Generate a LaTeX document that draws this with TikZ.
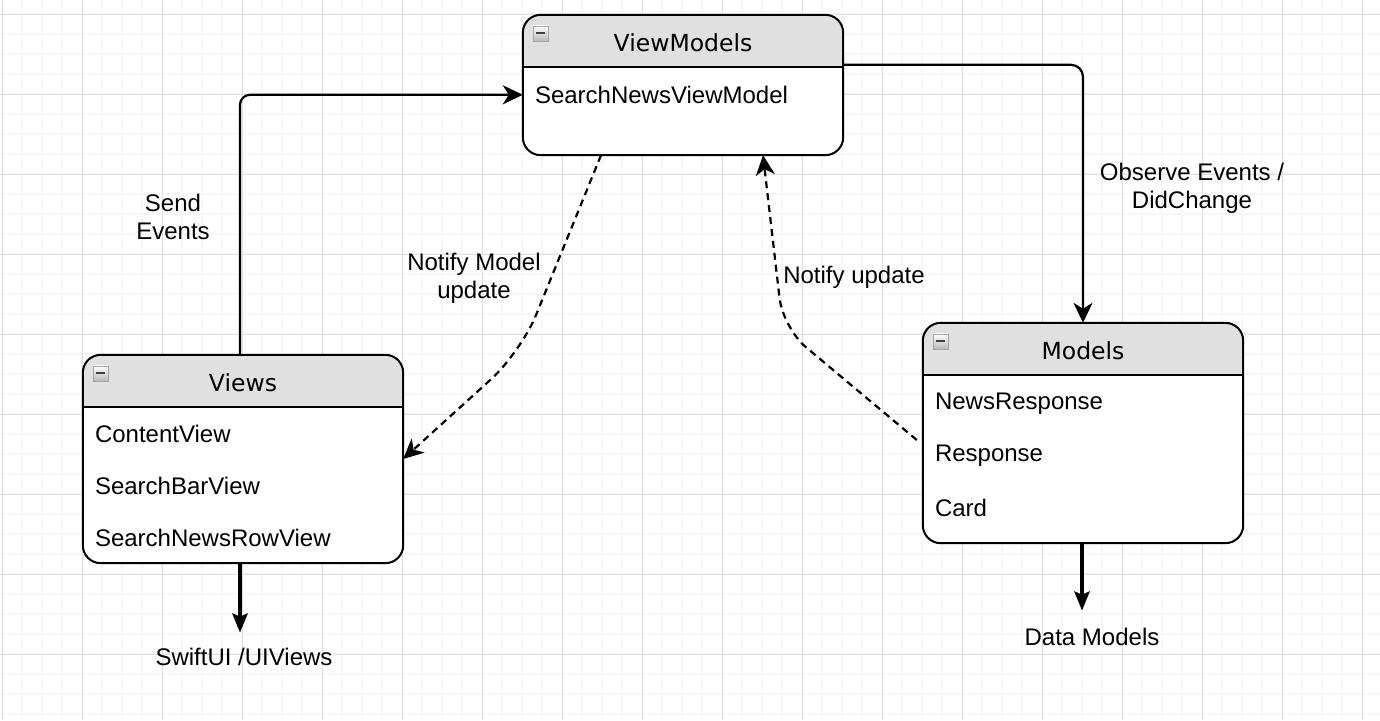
\documentclass[tikz,border=0pt]{standalone}
\usepackage{fontspec}
\setmainfont{Liberation Sans}
\newfontfamily\headfont{DejaVu Sans}
\usepackage{tikz}
\usetikzlibrary{arrows.meta,calc,positioning}
\definecolor{gridminor}{RGB}{247,247,247}
\definecolor{gridmajor}{RGB}{223,223,223}
\definecolor{headgray}{RGB}{224,224,224}

\begin{document}
\begin{tikzpicture}[x=1pt,y=-1pt,
  classbox/.style={fill=white,minimum width=320pt,minimum height=#1,inner sep=0pt,rounded corners=18pt},
  boxtitle/.style={font=\headfont\fontsize{23.5}{28}\selectfont},
  member/.style={anchor=west,inner sep=0pt,font=\fontsize{24}{28}\selectfont},
  lbl/.style={align=center,font=\fontsize{24}{28}\selectfont},
  flow/.style={line width=2.2pt,-{Stealth[length=20pt,width=19pt,inset=6pt]}},
  notif/.style={flow,dash pattern=on 7pt off 5pt},
  exitarrow/.style={line width=4pt,-{Stealth[length=19pt,width=15pt,inset=3pt]}}]
  % grid paper
  \useasboundingbox (0,0) rectangle (1380,720);
  \fill[white] (0,0) rectangle (1380,720);
  \foreach \x in {2,22,...,1382} \draw[gridminor,line width=1.5pt] (\x,0) -- (\x,720);
  \foreach \y in {14,34,...,720} \draw[gridminor,line width=1.5pt] (0,\y) -- (1380,\y);
  \foreach \x in {2,82,...,1382} \draw[gridmajor,line width=1pt] (\x,0) -- (\x,720);
  \foreach \y in {14,94,...,720} \draw[gridmajor,line width=1pt] (0,\y) -- (1380,\y);

  \node[classbox=140pt] (vm) at (683,85) {};
  \node[classbox=208pt] (vw) at (243,459) {};
  \node[classbox=220pt] (md) at (1083,433) {};
  \foreach \n/\t in {vm/ViewModels,vw/Views,md/Models} {
    \begin{scope}
      \clip[rounded corners=18pt] (\n.north west) rectangle (\n.south east);
      \fill[headgray] (\n.north west) rectangle ($(\n.north east)+(0,52)$);
    \end{scope}
    \draw[line width=2pt] ($(\n.north west)+(0,52)$) -- ($(\n.north east)+(0,52)$);
    \draw[line width=2pt,rounded corners=18pt] (\n.north west) rectangle (\n.south east);
    \shade[top color=white,bottom color=gray!55,draw=gray!70,line width=0.6pt] ($(\n.north west)+(10,11)$) rectangle ++(15,15);
    \draw[line width=2.2pt,black!75] ($(\n.north west)+(13,18)$) -- ++(9,0);
    \node[boxtitle] (\n-t) at ($(\n.north)+(0,28)$) {\t};
  }
  \node[member] (vm1) at ($(vm.north west)+(12,80)$) {SearchNewsViewModel};
  \node[member] (vw1) at ($(vw.north west)+(12,79)$) {ContentView};
  \node[member,below=52pt of vw1.west,anchor=west] (vw2) {SearchBarView};
  \node[member,below=52pt of vw2.west,anchor=west] (vw3) {SearchNewsRowView};
  \node[member] (md1) at ($(md.north west)+(12,81)$) {NewsResponse};
  \node[member,below=52pt of md1.west,anchor=west] (md2) {Response};
  \node[member,below=52pt of md2.west,anchor=west] (md3) {Card};

  \node[lbl] (send) at (173,217) {Send\\Events};
  \node[lbl] (obs) at (1192,188) {Observe Events /\\DidChange};
  \node[lbl] (nmu) at (474,278) {Notify Model\\update};
  \node[lbl] (nu) at (854,277) {Notify update};
  \node[lbl] (swift) at (244,657) {SwiftUI /UIViews};
  \node[lbl] (dm) at (1092,637) {Data Models};
  \coordinate (bendl) at (521,352);
  \coordinate (bendr) at (783,328);
  \coordinate (vwout) at ($(vw.south)+(-3,0)$);
  \coordinate (mdout) at ($(md.south)+(-1,0)$);

  \draw[flow,rounded corners=10pt] ($(vw.north)+(-3,0)$) |- (vm.west |- vm1.west);
  \draw[flow,rounded corners=12pt] ($(vm.north east)+(0,50)$) -| (md.north);
  \draw[notif,rounded corners=40pt] ($(vm.south)+(-82,0)$) -- (bendl) -- (vw.east);
  \draw[notif,rounded corners=30pt] ($(md.west)+(-6,7)$) -- (bendr) -- ($(vm.south)+(80,0)$);
  \draw[exitarrow] (vwout) -- ($(vwout |- swift.north)+(0,-12)$);
  \draw[exitarrow] (mdout) -- ($(mdout |- dm.north)+(0,-14)$);
\end{tikzpicture}
\end{document}
